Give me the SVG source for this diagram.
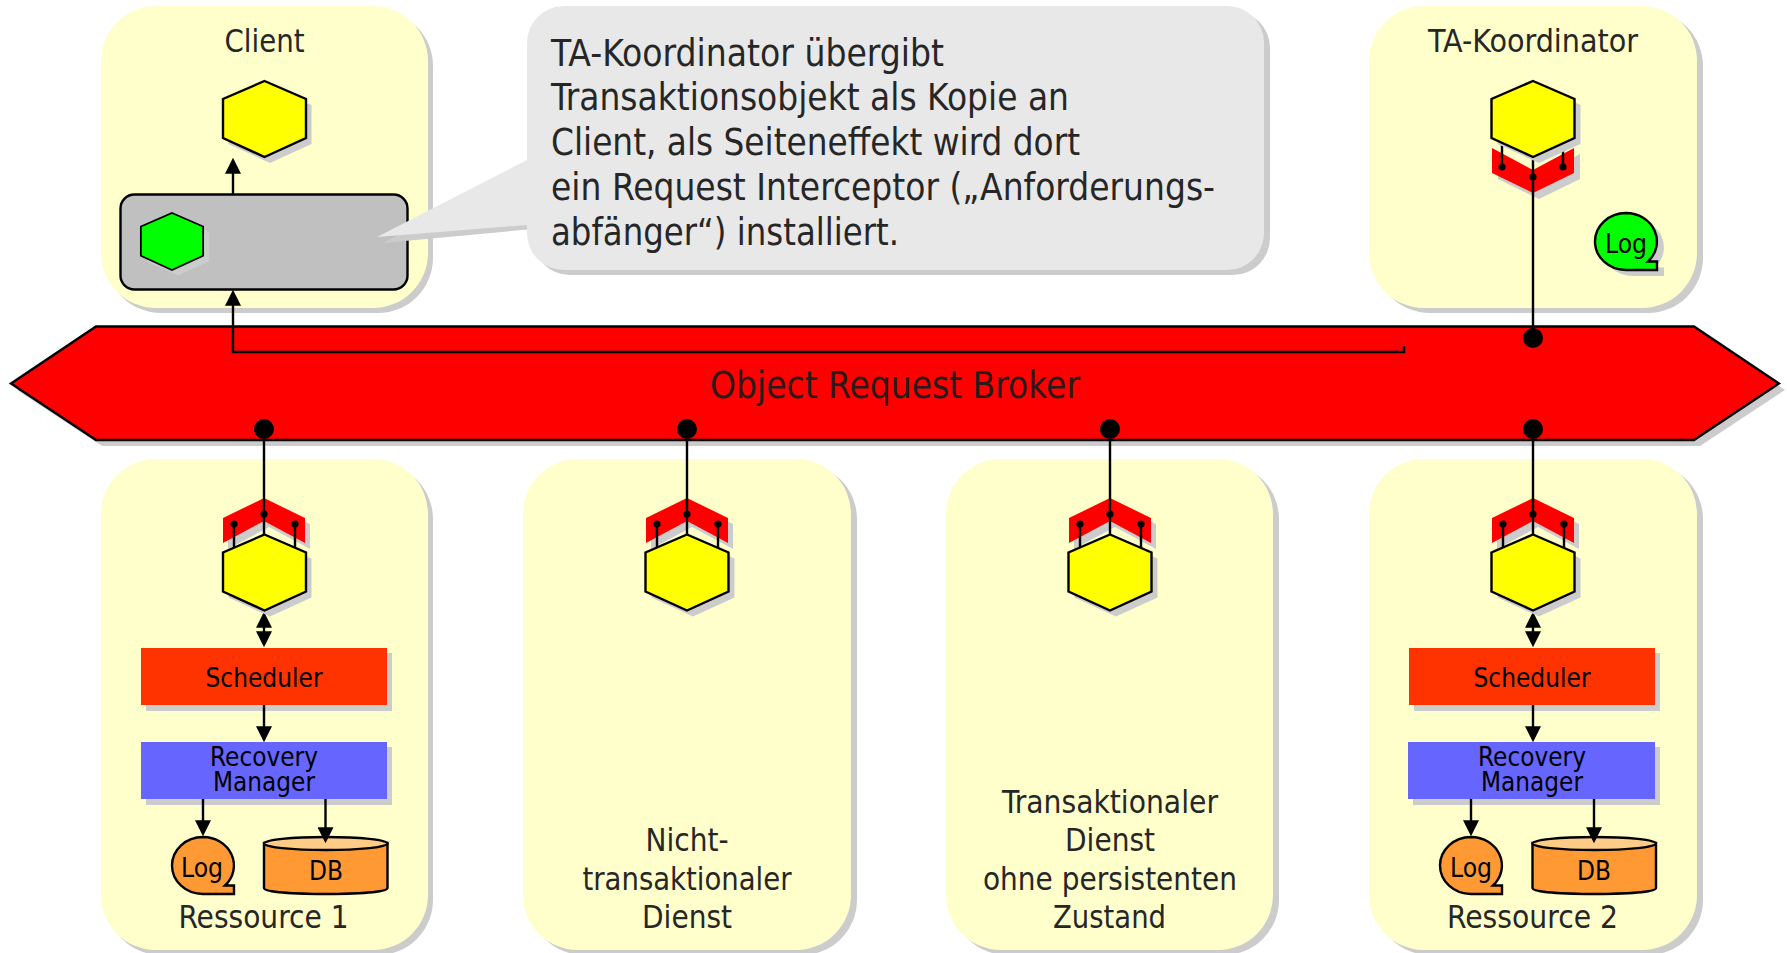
<svg xmlns="http://www.w3.org/2000/svg" width="1787" height="953" viewBox="0 0 1787 953">
<style>
text{font-family:"DejaVu Sans Condensed","DejaVu Sans","Liberation Sans",sans-serif;font-stretch:condensed;fill:#000;text-anchor:middle}
.lbl{font-size:32px;fill:#262626}
.sm{font-size:26.500px}
.tiny{font-size:26px}
.note{font-size:36.500px;fill:#262626;text-anchor:start}
.orb{font-size:37px;fill:#2a1a1a}
.sh{fill:#ccc}
.panel{fill:#ffc}
.ln{fill:none;stroke:#000;stroke-width:2.4}
.ol{stroke:#000;stroke-width:2.4}
.c{fill:none;stroke:#000;stroke-width:2.400}
</style>
<defs>
<path id="hx" d="M0-38L41.500-20V19L0 38L-41.500 19V-20Z"/>
<path id="ch" d="M-41 20L0 0L41 20V45L0 23L-41 45Z"/>
<path id="lg" d="M0 0A31 28.500 0 0 1 22 48.500H31V57H0A31 28.500 0 0 1 0 0Z"/>
<marker id="ah" markerUnits="userSpaceOnUse" markerWidth="16" markerHeight="16" viewBox="0 0 15 15" refX="12" refY="7.500" orient="auto-start-reverse"><path d="M0 0L15 7.500L0 15Z"/></marker>
<g id="pinsdn"><path class="ln" d="M-30 26V50M0 16V37M31 26V50"/><circle cx="-30" cy="26" r="3.600"/><circle cx="0" cy="16" r="3.600"/><circle cx="31" cy="26" r="3.600"/></g>
</defs>

<g id="panel-client"><rect class="sh" x="106" y="11" width="327" height="302" rx="55"/><rect class="panel" x="101" y="6" width="327" height="302" rx="55"/><text class="lbl" x="264.500" y="52" textLength="80" lengthAdjust="spacingAndGlyphs">Client</text></g>
<g id="panel-koordinator"><rect class="sh" x="1375" y="11" width="328" height="302" rx="55"/><rect class="panel" x="1369" y="6" width="328" height="302" rx="55"/><text class="lbl" x="1533" y="52" textLength="210" lengthAdjust="spacingAndGlyphs">TA-Koordinator</text></g>
<g id="panel-ressource1"><rect class="sh" x="106" y="464" width="327" height="491" rx="55"/><rect class="panel" x="101" y="459" width="327" height="491" rx="55"/><text class="lbl" x="263.500" y="927.500" textLength="170" lengthAdjust="spacingAndGlyphs">Ressource 1</text></g>
<g id="panel-nicht"><rect class="sh" x="529" y="464" width="328" height="491" rx="55"/><rect class="panel" x="523" y="459" width="328" height="491" rx="55"/><text class="lbl" x="687" y="851" textLength="83" lengthAdjust="spacingAndGlyphs">Nicht-</text><text class="lbl" x="687" y="890" textLength="209" lengthAdjust="spacingAndGlyphs">transaktionaler</text><text class="lbl" x="687" y="927.500" textLength="90" lengthAdjust="spacingAndGlyphs">Dienst</text></g>
<g id="panel-transaktional"><rect class="sh" x="952" y="464" width="327" height="491" rx="55"/><rect class="panel" x="946" y="459" width="327" height="491" rx="55"/><text class="lbl" x="1110" y="813" textLength="216" lengthAdjust="spacingAndGlyphs">Transaktionaler</text><text class="lbl" x="1110" y="851" textLength="90" lengthAdjust="spacingAndGlyphs">Dienst</text><text class="lbl" x="1110" y="890" textLength="254" lengthAdjust="spacingAndGlyphs">ohne persistenten</text><text class="lbl" x="1109.500" y="927.500" textLength="113" lengthAdjust="spacingAndGlyphs">Zustand</text></g>
<g id="panel-ressource2"><rect class="sh" x="1375" y="464" width="328" height="491" rx="55"/><rect class="panel" x="1369" y="459" width="328" height="491" rx="55"/><text class="lbl" x="1532.500" y="927.500" textLength="171" lengthAdjust="spacingAndGlyphs">Ressource 2</text></g>

<g id="orb"><path class="sh" d="M17 390L102 333H1700L1785 390L1700 446H102Z"/><path class="ol" fill="#f00" d="M11 383.500L96 326.500H1694L1779 383.500L1694 440H96Z"/><text class="orb" x="895" y="398" textLength="370" lengthAdjust="spacingAndGlyphs">Object Request Broker</text></g>

<g id="interceptor-koordinator"><path class="sh" d="M1498 154V179L1539 199L1580 179V154L1539 176Z"/><path fill="#f00" d="M1492 148V173L1533 193L1574 173V148L1533 170Z"/><path class="ln" d="M1502 167V140M1533 177V150M1563 167V140"/><circle cx="1502" cy="167" r="3.600"/><circle cx="1533" cy="177" r="3.600"/><circle cx="1563" cy="167" r="3.600"/></g>
<g id="interceptor-r1" transform="translate(264 498)"><use href="#ch" class="sh" x="5" y="6"/><use href="#ch" fill="#f00"/><use href="#pinsdn"/></g>
<g id="interceptor-n" transform="translate(687 498)"><use href="#ch" class="sh" x="5" y="6"/><use href="#ch" fill="#f00"/><use href="#pinsdn"/></g>
<g id="interceptor-t" transform="translate(1110 498)"><use href="#ch" class="sh" x="5" y="6"/><use href="#ch" fill="#f00"/><use href="#pinsdn"/></g>
<g id="interceptor-r2" transform="translate(1533 498)"><use href="#ch" class="sh" x="5" y="6"/><use href="#ch" fill="#f00"/><use href="#pinsdn"/></g>

<g id="request-interceptor"><rect class="ol" fill="#c0c0c0" x="120.500" y="194.500" width="287" height="95" rx="14"/></g>

<g id="scheduler1"><rect class="sh" x="146" y="653" width="246" height="58"/><rect fill="#f30" x="141" y="648" width="246" height="57"/><text class="sm" x="264" y="687" textLength="117" lengthAdjust="spacingAndGlyphs">Scheduler</text></g>
<g id="recovery1"><rect class="sh" x="146" y="747" width="246" height="58"/><rect fill="#66f" x="141" y="742" width="246" height="57"/><text class="sm" x="264" y="766" textLength="108" lengthAdjust="spacingAndGlyphs">Recovery</text><text class="sm" x="264" y="791" textLength="102" lengthAdjust="spacingAndGlyphs">Manager</text></g>
<g id="log1"><use href="#lg" class="ol" fill="#f93" x="203" y="837"/><text class="tiny" x="202" y="877" textLength="42" lengthAdjust="spacingAndGlyphs">Log</text></g>
<g id="db1"><path class="ol" fill="#f93" d="M264 843V888C264 896 387.500 896 387.500 888V843Z"/><ellipse class="ol" fill="#fc8" cx="325.750" cy="843.500" rx="61.750" ry="6.500"/><text class="tiny" x="326" y="880" textLength="34" lengthAdjust="spacingAndGlyphs">DB</text></g>
<g id="scheduler2"><rect class="sh" x="1414" y="653" width="246" height="58"/><rect fill="#f30" x="1409" y="648" width="246" height="57"/><text class="sm" x="1532" y="687" textLength="117" lengthAdjust="spacingAndGlyphs">Scheduler</text></g>
<g id="recovery2"><rect class="sh" x="1413" y="747" width="247" height="58"/><rect fill="#66f" x="1408" y="742" width="247" height="57"/><text class="sm" x="1532" y="766" textLength="108" lengthAdjust="spacingAndGlyphs">Recovery</text><text class="sm" x="1532" y="791" textLength="102" lengthAdjust="spacingAndGlyphs">Manager</text></g>
<g id="log2"><use href="#lg" class="ol" fill="#f93" x="1471" y="837"/><text class="tiny" x="1471" y="877" textLength="42" lengthAdjust="spacingAndGlyphs">Log</text></g>
<g id="db2"><path class="ol" fill="#f93" d="M1532.500 843V888C1532.500 896 1656 896 1656 888V843Z"/><ellipse class="ol" fill="#fc8" cx="1594.250" cy="843.500" rx="61.750" ry="6.500"/><text class="tiny" x="1594" y="880" textLength="34" lengthAdjust="spacingAndGlyphs">DB</text></g>
<g id="log-koordinator"><use href="#lg" class="sh" x="1633" y="219"/><use href="#lg" class="ol" fill="#0f0" x="1626" y="213"/><text class="tiny" x="1626" y="253" textLength="42" lengthAdjust="spacingAndGlyphs">Log</text></g>

<g id="connectors">
<path class="c" marker-end="url(#ah)" d="M1404 346V352H233V293"/>
<path class="c" marker-end="url(#ah)" d="M233 194V161"/>
<path class="c" d="M1533 177V338M264 429V514M687 429V514M1110 429V514M1533 429V514"/>
<circle cx="1533" cy="338" r="10"/><circle cx="264" cy="429" r="10"/><circle cx="687" cy="429" r="10"/><circle cx="1110" cy="429" r="10"/><circle cx="1533" cy="429" r="10"/>
<path class="c" marker-start="url(#ah)" marker-end="url(#ah)" d="M264 615V644"/>
<path class="c" marker-end="url(#ah)" d="M264 705V739"/>
<path class="c" marker-end="url(#ah)" d="M203 799V833"/>
<path class="c" marker-end="url(#ah)" d="M325.500 799V840"/>
<path class="c" marker-start="url(#ah)" marker-end="url(#ah)" d="M1533 615V644"/>
<path class="c" marker-end="url(#ah)" d="M1533 705V739"/>
<path class="c" marker-end="url(#ah)" d="M1471 799V833"/>
<path class="c" marker-end="url(#ah)" d="M1594 799V840"/>
</g>

<g id="transaction-object"><path class="sh" transform="translate(178 247) scale(.75)" d="M0-38L41.500-20V19L0 38L-41.500 19V-20Z"/><path class="ol" fill="#0f0" transform="translate(172 241.500) scale(.75)" d="M0-38L41.500-20V19L0 38L-41.500 19V-20Z"/></g>
<g id="hex-client"><use href="#hx" class="sh" x="270" y="125"/><use href="#hx" class="ol" fill="#ff0" x="264.500" y="119"/></g>
<g id="hex-koordinator"><use href="#hx" class="sh" x="1539" y="125"/><use href="#hx" class="ol" fill="#ff0" x="1533" y="119"/></g>
<g id="hex-r1"><use href="#hx" class="sh" x="270" y="578.500"/><use href="#hx" class="ol" fill="#ff0" x="264.500" y="572.500"/></g>
<g id="hex-n"><use href="#hx" class="sh" x="693" y="578.500"/><use href="#hx" class="ol" fill="#ff0" x="687" y="572.500"/></g>
<g id="hex-t"><use href="#hx" class="sh" x="1116" y="578.500"/><use href="#hx" class="ol" fill="#ff0" x="1110" y="572.500"/></g>
<g id="hex-r2"><use href="#hx" class="sh" x="1539" y="578.500"/><use href="#hx" class="ol" fill="#ff0" x="1533" y="572.500"/></g>

<g id="callout">
<path class="sh" d="M383 243L533 165V48A37 37 0 0 1 570 11H1233A37 37 0 0 1 1270 48V238A37 37 0 0 1 1233 275H570A37 37 0 0 1 533 238V229Z"/>
<path fill="#e8e8e8" d="M377 237L527 160V43A37 37 0 0 1 564 6H1227A37 37 0 0 1 1264 43V233A37 37 0 0 1 1227 270H564A37 37 0 0 1 527 233V225Z"/>
<text class="note" x="551" y="65.500" textLength="393" lengthAdjust="spacingAndGlyphs">TA-Koordinator übergibt</text>
<text class="note" x="551" y="110" textLength="518" lengthAdjust="spacingAndGlyphs">Transaktionsobjekt als Kopie an</text>
<text class="note" x="551" y="154.500" textLength="529" lengthAdjust="spacingAndGlyphs">Client, als Seiteneffekt wird dort</text>
<text class="note" x="551" y="199.500" textLength="664" lengthAdjust="spacingAndGlyphs">ein Request Interceptor („Anforderungs-</text>
<text class="note" x="551" y="244.500" textLength="348" lengthAdjust="spacingAndGlyphs">abfänger“) installiert.</text>
</g>
</svg>
